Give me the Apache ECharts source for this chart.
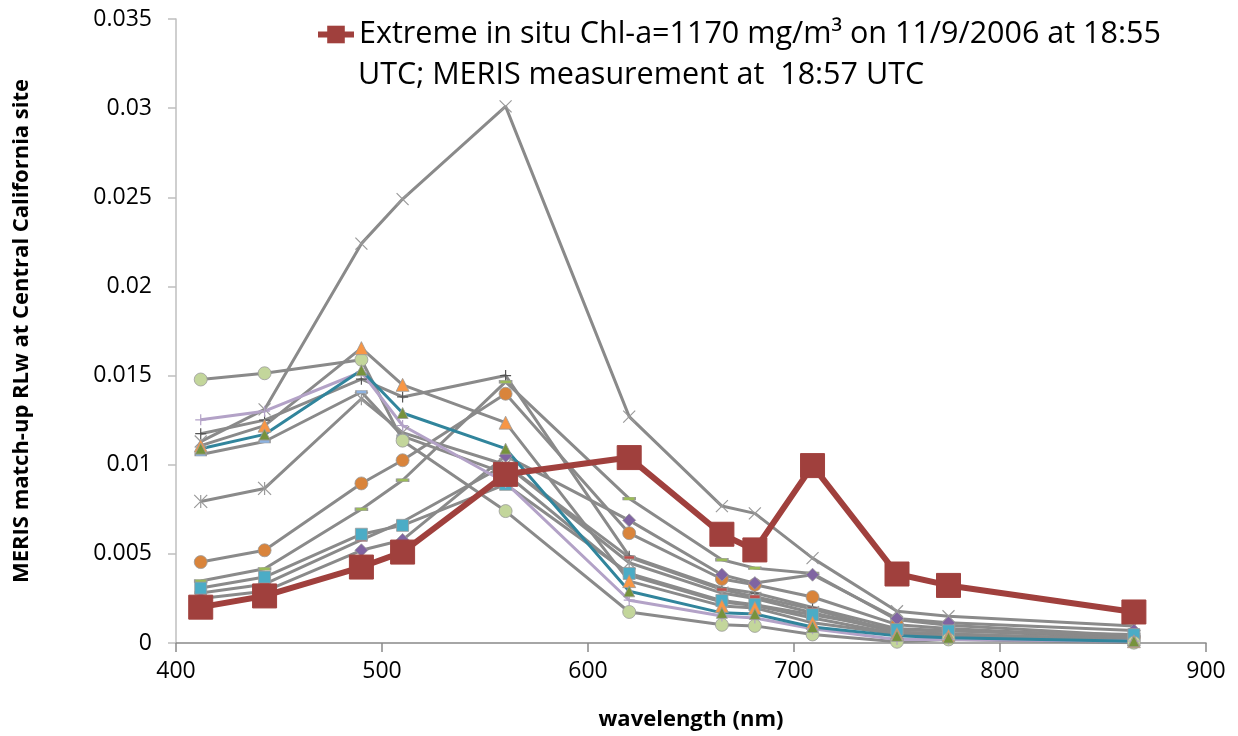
<!DOCTYPE html>
<html>
<head>
<meta charset="utf-8">
<script src="https://cdn.jsdelivr.net/npm/echarts@6/dist/echarts.min.js"></script>
<style>html,body{margin:0;padding:0;background:#fff}#c{width:1238px;height:736px}</style>
</head>
<body>
<div id="c"></div>
<script>
// wavelengths (nm)
const wavelengths = [412, 443, 490, 510, 560, 620, 665, 681, 709, 750, 775, 865];
// extreme case
const extreme     = [0.00201, 0.00264, 0.00426, 0.0051, 0.00946, 0.0104, 0.0061, 0.00522, 0.00995, 0.00387, 0.00323, 0.00174];
// other match-ups
const sMaxX       = [0.0113, 0.0131, 0.0224, 0.0249, 0.0301, 0.0127, 0.00768, 0.00727, 0.00476, 0.00178, 0.0015, 0.00096];
const sGreenCirc  = [0.01478, 0.01513, 0.01589, 0.01135, 0.0074, 0.00174, 0.00102, 0.00096, 0.00048, 0.00007, 0.0002, 0.00002];
const sOrangeTri  = [0.01107, 0.01219, 0.01654, 0.01448, 0.01236, 0.00347, 0.00208, 0.00197, 0.00113, 0.0005, 0.0004, 0.0001];
const sTeal       = [0.0109, 0.0117, 0.0153, 0.0129, 0.0109, 0.0029, 0.00169, 0.00163, 0.0009, 0.0004, 0.0003, 0.0001];
const sLavender   = [0.01252, 0.0130, 0.0152, 0.0122, 0.0090, 0.0024, 0.00152, 0.0014, 0.0008, 0.0002, 0.0002, 0.0001];
const sAquaSq     = [0.00308, 0.0037, 0.0061, 0.0066, 0.0089, 0.0039, 0.00238, 0.00215, 0.00159, 0.00075, 0.00068, 0.00047];
const sOrangeCirc = [0.00454, 0.0052, 0.00895, 0.01025, 0.01398, 0.00616, 0.00359, 0.00327, 0.00258, 0.00103, 0.00081, 0.0003];
const sGreenDash  = [0.00348, 0.00416, 0.0075, 0.00913, 0.01465, 0.0081, 0.00467, 0.0042, 0.0039, 0.0013, 0.001, 0.0004];
const sPurpleDia  = [0.0025, 0.0029, 0.0052, 0.00578, 0.0105, 0.00688, 0.00383, 0.00336, 0.00383, 0.00137, 0.00113, 0.0007];
const sGrayPlus   = [0.01174, 0.0125, 0.0148, 0.0138, 0.0150, 0.00487, 0.00308, 0.0028, 0.0020, 0.0008, 0.0007, 0.0003];
const sAsterisk   = [0.00794, 0.00867, 0.0137, 0.0118, 0.0100, 0.0045, 0.0028, 0.0025, 0.0017, 0.0006, 0.0005, 0.0002];
const sGrayDash   = [0.01057, 0.0113, 0.01408, 0.0116, 0.0095, 0.0038, 0.0023, 0.0021, 0.0014, 0.0005, 0.0004, 0.0001];
const sRedDash    = [0.0028, 0.0033, 0.00578, 0.0068, 0.0100, 0.0048, 0.0030, 0.0026, 0.0019, 0.0006, 0.0005, 0.0002];

const legendLine1 = 'Extreme in situ Chl-a=1170 mg/m³ on 11/9/2006 at 18:55';
const legendLine2 = 'UTC; MERIS measurement at  18:57 UTC';
const xName = 'wavelength (nm)';
const yName = 'MERIS match-up RLw at Central California site';

const pairs = arr => wavelengths.map((w, i) => [w, arr[i]]);
const GRAY = '#8a8a8a';
const X_SYM = 'path://M0,0L10,10M10,0L0,10';
const PLUS_SYM = 'path://M5,0L5,10M0,5L10,5';
const STAR_SYM = 'path://M0,0L10,10M10,0L0,10M5,0L5,10';
const DASH_SYM = 'path://M0,0L10,0L10,2.4L0,2.4Z';

function gray(name, data, symbol, mColor, size, lineColor, stroke) {
  return {
    name, type: 'line', data: pairs(data), symbol, symbolSize: size,
    lineStyle: { color: lineColor || GRAY, width: 3 },
    itemStyle: stroke
      ? { color: mColor, borderColor: mColor, borderWidth: 1.2 }
      : { color: mColor, borderColor: '#9a9a9a', borderWidth: 0.8 },
    emphasis: { disabled: true }, z: 2
  };
}

const series = [
  gray('s1', sMaxX, X_SYM, '#9a9a9a', 12, null, true),
  gray('s2', sGrayPlus, PLUS_SYM, '#555555', 11, null, true),
  gray('s3', sAsterisk, STAR_SYM, '#9a9a9a', 13, null, true),
  gray('s4', sGrayDash, DASH_SYM, '#8db3e2', [11, 3]),
  gray('s5', sRedDash, DASH_SYM, '#c0504d', [11, 3]),
  gray('s6', sGreenDash, DASH_SYM, '#9bbb59', [12, 3]),
  gray('s7', sOrangeCirc, 'circle', '#d9843b', 13),
  gray('s8', sPurpleDia, 'diamond', '#8064a2', 13),
  gray('s9', sAquaSq, 'rect', '#4bacc6', 12),
  gray('s10', sGreenCirc, 'circle', '#c3d69b', 13),
  gray('s11', sOrangeTri, 'triangle', '#f79646', 13),
  gray('s12', sLavender, PLUS_SYM, '#b3a2c7', 11, '#b3a2c7', true),
  gray('s13', sTeal, 'triangle', '#77933c', 11, '#31859c'),
  {
    name: legendLine1, type: 'line', data: pairs(extreme), symbol: 'rect', symbolSize: 24,
    lineStyle: { color: '#a0403d', width: 6 },
    itemStyle: { color: '#a0403d', borderColor: '#a0403d' },
    emphasis: { disabled: true }, z: 5
  }
];

const chart = echarts.init(document.getElementById('c'), null, { renderer: 'canvas' });
chart.setOption({
  animation: false,
  backgroundColor: '#fff',
  textStyle: { fontFamily: 'Open Sans' },
  grid: { left: 176, right: 32, top: 19, bottom: 91 },
  legend: {
    data: [legendLine1], left: 315, top: 19, padding: 0, itemWidth: 36, itemHeight: 22, itemGap: 6,
    lineStyle: { width: 6 },
    textStyle: { fontSize: 30.5, color: '#000', fontFamily: 'Open Sans' }
  },
  graphic: [{
    type: 'text', left: 358, top: 60,
    style: { text: legendLine2, fontSize: 30.5, fill: '#000', fontFamily: 'Open Sans' }
  }],
  xAxis: {
    type: 'value', min: 400, max: 900, interval: 100,
    name: xName, nameLocation: 'middle', nameGap: 66,
    nameTextStyle: { fontSize: 22, fontWeight: 'bold', color: '#000', fontFamily: 'Open Sans' },
    axisLine: { lineStyle: { color: '#898989', width: 1.5 } },
    axisTick: { length: 9, lineStyle: { color: '#898989', width: 1.5 } },
    axisLabel: { fontSize: 23, color: '#000', margin: 17 },
    splitLine: { show: false }
  },
  yAxis: {
    type: 'value', min: 0, max: 0.035, interval: 0.005,
    name: yName, nameLocation: 'middle', nameGap: 143,
    nameTextStyle: { fontSize: 22, fontWeight: 'bold', color: '#000', fontFamily: 'Open Sans' },
    axisLine: { show: true, lineStyle: { color: '#bfbfbf', width: 1.5 } },
    axisTick: { show: true, length: 8, lineStyle: { color: '#bfbfbf', width: 1.5 } },
    axisLabel: { fontSize: 23, color: '#000', margin: 24 },
    splitLine: { show: false }
  },
  series
});
</script>
</body>
</html>
